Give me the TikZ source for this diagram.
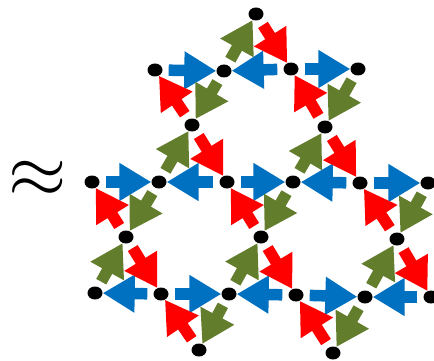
\documentclass[tikz,border=0pt]{standalone}
\usetikzlibrary{arrows.meta,shapes.geometric,backgrounds}
\definecolor{spinblue}{HTML}{0070C0}
\definecolor{spinred}{HTML}{FF0000}
\definecolor{spingreen}{HTML}{627D2C}
\tikzset{
  dot/.style={ellipse, fill=black, minimum width=15pt, minimum height=13pt, inner sep=0pt},
  spin/.style={line width=11.5pt, shorten <=6pt, -{Triangle[length=32pt,width=36pt]}},
  bspin/.style={spin, draw=spinblue, fill=spinblue},
  rspin/.style={spin, draw=spinred, fill=spinred},
  gspin/.style={spin, draw=spingreen, fill=spingreen}
}
\begin{document}
\begin{tikzpicture}[x=1pt,y=-1pt]
\useasboundingbox (0,0) rectangle (434,361);
\clip (0,0) rectangle (434,361);
\node[inner sep=0pt] (approx) at (38,179) {\scalebox{7.5}{$\approx$}};
% vertices
\node[dot] (A) at (256,14) {};
\node[dot] (B1) at (155,70) {};
\node[dot] (B2) at (224,71) {};
\node[dot] (B3) at (291,69) {};
\node[dot] (B4) at (358,69) {};
\node[dot] (C1) at (192,125) {};
\node[dot] (C2) at (325,127) {};
\node[dot] (D1) at (92,182) {};
\node[dot] (D2) at (159,182) {};
\node[dot] (D3) at (227,182) {};
\node[dot] (D4) at (293,182) {};
\node[dot] (D5) at (360,183) {};
\node[dot] (D6) at (428,183) {};
\node[dot] (E1) at (126,237) {};
\node[dot] (E2) at (261,237) {};
\node[dot] (E3) at (397,239) {};
\node[dot] (F1) at (95,293) {};
\node[dot] (F2) at (161,294) {};
\node[dot] (F3) at (229,294) {};
\node[dot] (F4) at (296,295) {};
\node[dot] (F5) at (365,297) {};
\node[dot] (F6) at (431,297) {};
\node[dot] (G1) at (199,350) {};
\node[dot] (G2) at (333,353) {};
\begin{scope}[on background layer]
% blue
\draw[bspin] (B1) -- (B2);
\draw[bspin] (B3) -- (B2);
\draw[bspin] (B3) -- (B4);
\draw[bspin] (D1) -- (D2);
\draw[bspin] (D3) -- (D2);
\draw[bspin] (D3) -- (D4);
\draw[bspin] (D5) -- (D4);
\draw[bspin] (D5) -- (D6);
\draw[bspin] (F2) -- (F1);
\draw[bspin] (F2) -- (F3);
\draw[bspin] (F4) -- (F3);
\draw[bspin] (F4) -- (F5);
\draw[bspin] (F6) -- (F5);
% red
\draw[rspin] (A) -- (B3);
\draw[rspin] (C1) -- (B1);
\draw[rspin] (C2) -- (B3);
\draw[rspin] (C1) -- (D3);
\draw[rspin] (C2) -- (D5);
\draw[rspin] (E1) -- (D1);
\draw[rspin] (E2) -- (D3);
\draw[rspin] (E3) -- (D5);
\draw[rspin] (E1) -- (F2);
\draw[rspin] (E2) -- (F4);
\draw[rspin] (E3) -- (F6);
\draw[rspin] (G1) -- (F2);
\draw[rspin] (G2) -- (F4);
% green
\draw[gspin] (B2) -- (A);
\draw[gspin] (B2) -- (C1);
\draw[gspin] (B4) -- (C2);
\draw[gspin] (D2) -- (C1);
\draw[gspin] (D4) -- (C2);
\draw[gspin] (D2) -- (E1);
\draw[gspin] (D4) -- (E2);
\draw[gspin] (D6) -- (E3);
\draw[gspin] (F1) -- (E1);
\draw[gspin] (F3) -- (E2);
\draw[gspin] (F5) -- (E3);
\draw[gspin] (F3) -- (G1);
\draw[gspin] (F5) -- (G2);
\end{scope}
\end{tikzpicture}
\end{document}
